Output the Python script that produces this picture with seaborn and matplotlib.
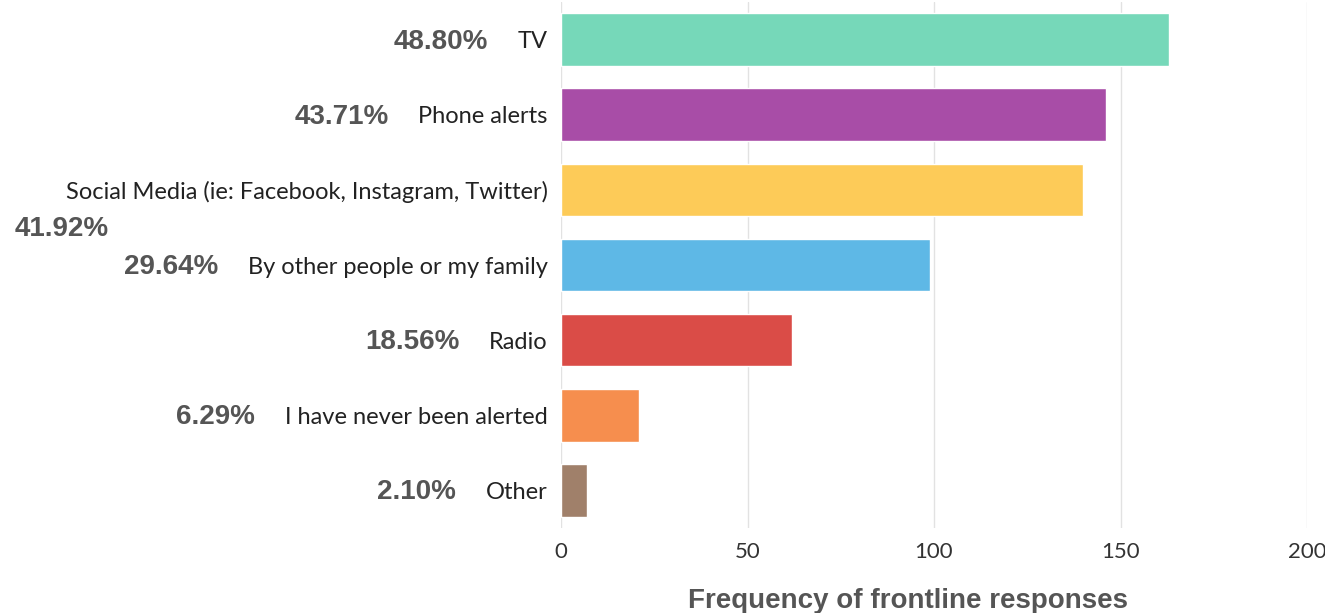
import matplotlib
matplotlib.use("Agg")
import matplotlib.pyplot as plt
import seaborn as sns
import pandas as pd

# data
categories = [
    "TV",
    "Phone alerts",
    "Social Media (ie: Facebook, Instagram, Twitter)",
    "By other people or my family",
    "Radio",
    "I have never been alerted",
    "Other",
]
counts = [163, 146, 140, 99, 62, 21, 7]
percent_labels = ["48.80%", "43.71%", "41.92%", "29.64%", "18.56%", "6.29%", "2.10%"]
bar_colors = ["#76D8B9", "#A84DA7", "#FDCB58", "#5EB8E6", "#DA4C47", "#F68E4E", "#A0806A"]
x_ticks = [0, 50, 100, 150, 200]

W, H = 1325, 613

sns.set_theme(style="white")
plt.rcParams['font.family'] = ['Lato', 'DejaVu Sans']


def main():
    df = pd.DataFrame({"category": categories, "count": counts})

    fig = plt.figure(figsize=(W / 100, H / 100), dpi=100)
    ax = fig.add_axes([561 / W, 1 - 528 / H, (1307 - 561) / W, (528 - 2) / H])

    sns.barplot(data=df, x="count", y="category", hue="category",
                palette=bar_colors, saturation=1, width=0.7, legend=False,
                dodge=False, ax=ax, zorder=3)

    ax.set_xlim(x_ticks[0], x_ticks[-1])
    ax.set_ylim(len(categories) - 0.5, -0.5)
    ax.set_xticks(x_ticks)
    ax.grid(axis="x", color="#e2e2e2", linewidth=1, zorder=0)
    ax.grid(axis="y", visible=False)
    for s in ax.spines.values():
        s.set_visible(False)

    ax.set_ylabel("")
    ax.tick_params(axis="y", length=0, pad=9.5, labelsize=17, labelcolor="#222222")
    ax.tick_params(axis="x", length=0, pad=10, labelsize=16, labelcolor="#333333")
    ax.set_xlabel("Frequency of frontline responses", fontsize=20, fontweight="bold",
                  color="#555555", family=["Liberation Sans", "DejaVu Sans"], labelpad=12)
    ax.xaxis.set_label_coords(0.465, -0.115)

    # percentage labels sit to the left of each category label
    fig.canvas.draw()
    renderer = fig.canvas.get_renderer()
    gap = 30
    for lab, pct in zip(ax.get_yticklabels(), percent_labels):
        bb = lab.get_window_extent(renderer)
        yc = (bb.y0 + bb.y1) / 2
        t = fig.text(bb.x0 - gap, yc, pct, transform=None, ha="right", va="center",
                     fontsize=20, fontweight="bold", color="#555555",
                     family=["Liberation Sans", "DejaVu Sans"])
        tb = t.get_window_extent(renderer)
        if tb.x0 < 0:
            # no room on the line: drop below the label at the left margin
            t.set_position((15, yc - 37))
            t.set_ha("left")

    fig.savefig("out.png", dpi=100, facecolor="white")


if __name__ == "__main__":
    main()
